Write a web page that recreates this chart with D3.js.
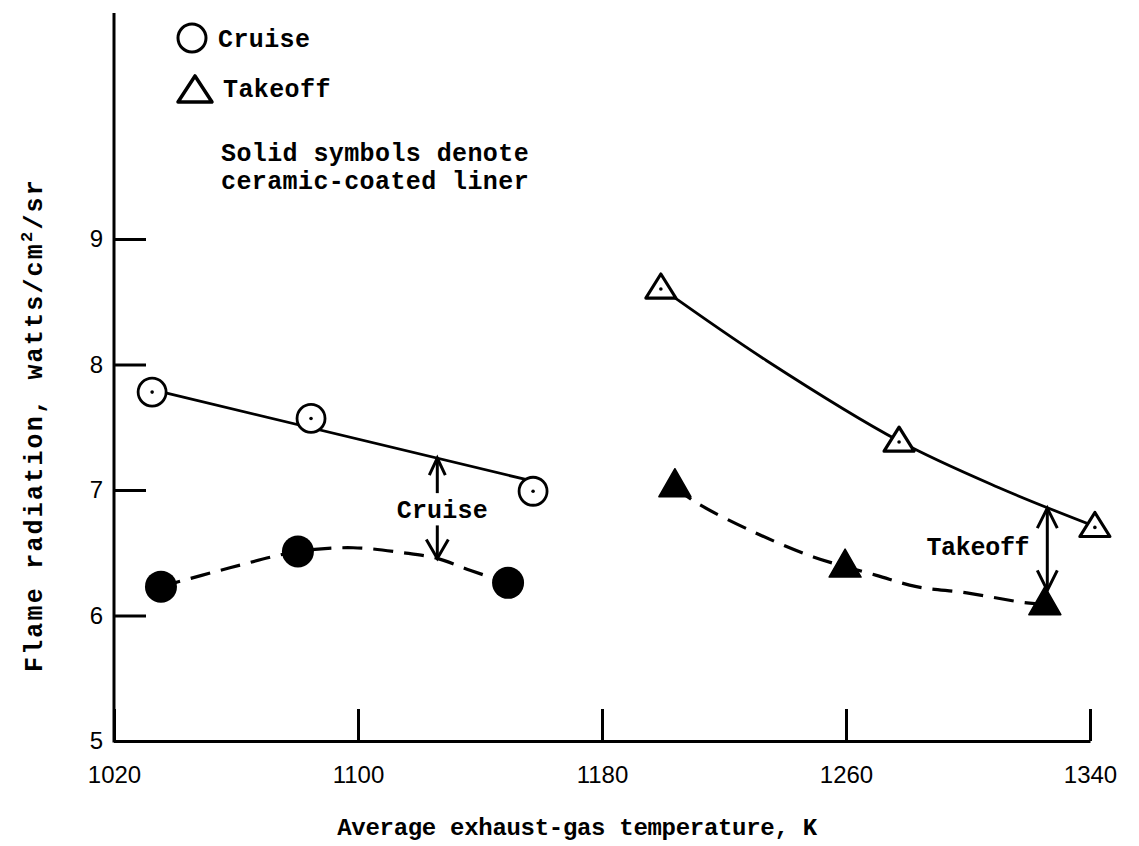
<!DOCTYPE html>
<html>
<head>
<meta charset="utf-8">
<script src="https://cdnjs.cloudflare.com/ajax/libs/d3/7.8.5/d3.min.js"></script>
<style>
body { margin: 0; background: #fff; }
</style>
</head>
<body>
<div id="chart"></div>
<script>
// values
const xTicks = [1020, 1100, 1180, 1260, 1340];
const yTicks = [5, 6, 7, 8, 9];

// cruise, plain liner (open circles)
const cruiseTemp = [1032.5, 1084.6, 1157.4];
const cruiseRad = [7.78, 7.57, 6.99];
// cruise, ceramic-coated liner (solid circles)
const cruiseCoatedTemp = [1035.4, 1080.3, 1149.2];
const cruiseCoatedRad = [6.23, 6.51, 6.26];
// takeoff, plain liner (open triangles)
const takeoffTemp = [1199.3, 1277.4, 1341.6];
const takeoffRad = [8.61, 7.39, 6.71];
// takeoff, ceramic-coated liner (solid triangles)
const takeoffCoatedTemp = [1203.9, 1259.7, 1325.2];
const takeoffCoatedRad = [7.04, 6.40, 6.10];

// faired curves as drawn through the points
const cruiseFair = [[1032.5, 7.80], [1157.4, 7.07]];
const cruiseCoatedFair = [[1035.4, 6.23], [1058, 6.38], [1080.3, 6.51], [1098.4, 6.54], [1114.8, 6.50], [1125.9, 6.455], [1136.7, 6.36], [1149.2, 6.26]];
const takeoffFair = [[1199.3, 8.61], [1234, 8.03], [1277.4, 7.39], [1310, 7.02], [1341.6, 6.71]];
const takeoffCoatedFair = [[1203.9, 7.02], [1211.2, 6.895], [1229.6, 6.667], [1249.3, 6.467], [1270, 6.32], [1283.1, 6.23], [1299.6, 6.18], [1319.3, 6.10], [1325.2, 6.09]];

// gap arrows: temperature, upper value, lower value
const cruiseGap = [1126, 7.254, 6.455];
const takeoffGap = [1326, 6.855, 6.2];

const width = 1139
const height = 846
const typeFont = "'Liberation Mono', 'DejaVu Sans Mono', monospace";
const numFont = "'Liberation Sans', Arial, sans-serif";

const svg = d3.select("#chart")
    .append("svg")
    .attr("width", width)
    .attr("height", height)
    .style("background", "#fff")

const x = d3.scaleLinear().domain([1020, 1340]).range([114, 1090])
const y = d3.scaleLinear().domain([5, 9]).range([741, 239])

// axes, ticks pointing into the plot
const xAxis = svg.append("g")
    .attr("transform", `translate(0,${y(5)})`)
    .call(d3.axisBottom(x).tickValues(xTicks).tickFormat(d3.format("d"))
        .tickSize(-32).tickSizeOuter(0).tickPadding(25))
const yAxis = svg.append("g")
    .attr("transform", `translate(${x(1020)},0)`)
    .call(d3.axisLeft(y).tickValues(yTicks).tickFormat(d3.format("d"))
        .tickSize(-32).tickSizeOuter(0).tickPadding(11))

for (const g of [xAxis, yAxis]) {
    g.selectAll("path, line").attr("stroke", "#000").attr("stroke-width", 3)
    g.selectAll("text").attr("fill", "#000")
        .style("font-family", numFont).style("font-size", "24px")
}
yAxis.select(".domain").remove()
// the y axis line runs up past the top tick
svg.append("line")
    .attr("x1", x(1020)).attr("x2", x(1020))
    .attr("y1", y(5) + 1.5).attr("y2", y(10.8))
    .attr("stroke", "#000").attr("stroke-width", 3)

// axis titles
svg.append("text")
    .attr("x", 577).attr("y", 835)
    .attr("text-anchor", "middle")
    .style("font-family", typeFont).style("font-size", "24px").style("font-weight", "bold")
    .style("letter-spacing", "-0.3px")
    .text("Average exhaust-gas temperature, K")

const yTitle = svg.append("text")
    .attr("transform", "translate(42,425) rotate(-90)")
    .attr("text-anchor", "middle")
    .style("font-family", typeFont).style("font-size", "25px").style("font-weight", "bold")
    .style("letter-spacing", "2.2px")
yTitle.append("tspan").text("Flame radiation, watts/cm")
yTitle.append("tspan").attr("dy", -10).style("font-size", "17px").text("2")
yTitle.append("tspan").attr("dy", 10).text("/sr")

// faired curves
const lineGen = d3.line()
    .x(d => x(d[0]))
    .y(d => y(d[1]))
    .curve(d3.curveCatmullRom.alpha(0.5))

svg.append("path").datum(cruiseFair)
    .attr("d", lineGen).attr("fill", "none")
    .attr("stroke", "#000").attr("stroke-width", 2.8)
svg.append("path").datum(takeoffFair)
    .attr("d", lineGen).attr("fill", "none")
    .attr("stroke", "#000").attr("stroke-width", 2.8)
svg.append("path").datum(cruiseCoatedFair)
    .attr("d", lineGen).attr("fill", "none")
    .attr("stroke", "#000").attr("stroke-width", 3.2)
    .attr("stroke-dasharray", "20,11")
svg.append("path").datum(takeoffCoatedFair)
    .attr("d", lineGen).attr("fill", "none")
    .attr("stroke", "#000").attr("stroke-width", 3.2)
    .attr("stroke-dasharray", "20,11")

// symbols
function triangle(cx, cy, w, h) {
    return `M${cx - w / 2},${cy + h * 0.42} L${cx},${cy - h * 0.58} L${cx + w / 2},${cy + h * 0.42} Z`
}

const cruiseOpen = cruiseTemp.map((t, i) => ({ t: t, v: cruiseRad[i] }))
const cruiseSolid = cruiseCoatedTemp.map((t, i) => ({ t: t, v: cruiseCoatedRad[i] }))
const takeoffOpen = takeoffTemp.map((t, i) => ({ t: t, v: takeoffRad[i] }))
const takeoffSolid = takeoffCoatedTemp.map((t, i) => ({ t: t, v: takeoffCoatedRad[i] }))

svg.append("g").selectAll("circle")
    .data(cruiseOpen)
    .join("circle")
    .attr("cx", d => x(d.t)).attr("cy", d => y(d.v)).attr("r", 14)
    .attr("fill", "#fff").attr("stroke", "#000").attr("stroke-width", 2.8)
svg.append("g").selectAll("circle")
    .data(cruiseOpen)
    .join("circle")
    .attr("cx", d => x(d.t)).attr("cy", d => y(d.v)).attr("r", 1.8)
    .attr("fill", "#000")

svg.append("g").selectAll("circle")
    .data(cruiseSolid)
    .join("circle")
    .attr("cx", d => x(d.t)).attr("cy", d => y(d.v)).attr("r", 16)
    .attr("fill", "#000")

svg.append("g").selectAll("path")
    .data(takeoffOpen)
    .join("path")
    .attr("d", d => triangle(x(d.t), y(d.v), 30, 24))
    .attr("fill", "#fff").attr("stroke", "#000").attr("stroke-width", 3.2)
    .attr("stroke-linejoin", "round")
svg.append("g").selectAll("circle")
    .data(takeoffOpen)
    .join("circle")
    .attr("cx", d => x(d.t)).attr("cy", d => y(d.v) + 1).attr("r", 1.8)
    .attr("fill", "#000")

svg.append("g").selectAll("path")
    .data(takeoffSolid)
    .join("path")
    .attr("d", d => triangle(x(d.t), y(d.v), 32, 28))
    .attr("fill", "#000").attr("stroke", "#000").attr("stroke-width", 1.5)
    .attr("stroke-linejoin", "round")

// gap arrows and their labels
function arrowHead(g, px, py, dir, w, len) {
    // dir = -1 points up, 1 points down
    g.append("path")
        .attr("d", `M${px - w},${py - dir * len} L${px},${py} L${px + w},${py - dir * len}`)
        .attr("fill", "none").attr("stroke", "#000").attr("stroke-width", 3)
}

const cg = svg.append("g")
const cx0 = x(cruiseGap[0])
cg.append("line").attr("x1", cx0).attr("x2", cx0)
    .attr("y1", y(cruiseGap[1])).attr("y2", y(cruiseGap[1]) + 35)
    .attr("stroke", "#000").attr("stroke-width", 3)
arrowHead(cg, cx0, y(cruiseGap[1]), -1, 8, 17)
cg.append("line").attr("x1", cx0).attr("x2", cx0)
    .attr("y1", y(cruiseGap[2]) - 33).attr("y2", y(cruiseGap[2]))
    .attr("stroke", "#000").attr("stroke-width", 3)
arrowHead(cg, cx0, y(cruiseGap[2]), 1, 11, 19)
cg.append("text")
    .attr("x", cx0 + 5).attr("y", y(cruiseGap[1]) + 60)
    .attr("text-anchor", "middle")
    .style("font-family", typeFont).style("font-size", "25px").style("font-weight", "bold")
    .style("letter-spacing", "0.2px")
    .text("Cruise")

const tg = svg.append("g")
const tx0 = x(takeoffGap[0])
tg.append("line").attr("x1", tx0).attr("x2", tx0)
    .attr("y1", y(takeoffGap[1])).attr("y2", y(takeoffGap[2]))
    .attr("stroke", "#000").attr("stroke-width", 3)
arrowHead(tg, tx0, y(takeoffGap[1]), -1, 10, 20)
arrowHead(tg, tx0, y(takeoffGap[2]), 1, 10, 20)
tg.append("text")
    .attr("x", tx0 - 18).attr("y", 555)
    .attr("text-anchor", "end")
    .style("font-family", typeFont).style("font-size", "25px").style("font-weight", "bold")
    .style("letter-spacing", "-0.3px")
    .text("Takeoff")

// legend
const lg = svg.append("g")
lg.append("circle").attr("cx", 192).attr("cy", 38).attr("r", 14)
    .attr("fill", "#fff").attr("stroke", "#000").attr("stroke-width", 3)
lg.append("path").attr("d", triangle(195, 91, 34, 26))
    .attr("fill", "#fff").attr("stroke", "#000").attr("stroke-width", 3.5)
    .attr("stroke-linejoin", "round")
const legendText = [
    { x: 218, y: 47, s: "Cruise" },
    { x: 223, y: 97, s: "Takeoff" },
    { x: 221, y: 161, s: "Solid symbols denote" },
    { x: 221, y: 189, s: "ceramic-coated liner" }
]
lg.selectAll("text")
    .data(legendText)
    .join("text")
    .attr("x", d => d.x).attr("y", d => d.y)
    .style("font-family", typeFont).style("font-size", "25px").style("font-weight", "bold")
    .style("letter-spacing", "0.4px")
    .text(d => d.s)
</script>
</body>
</html>
